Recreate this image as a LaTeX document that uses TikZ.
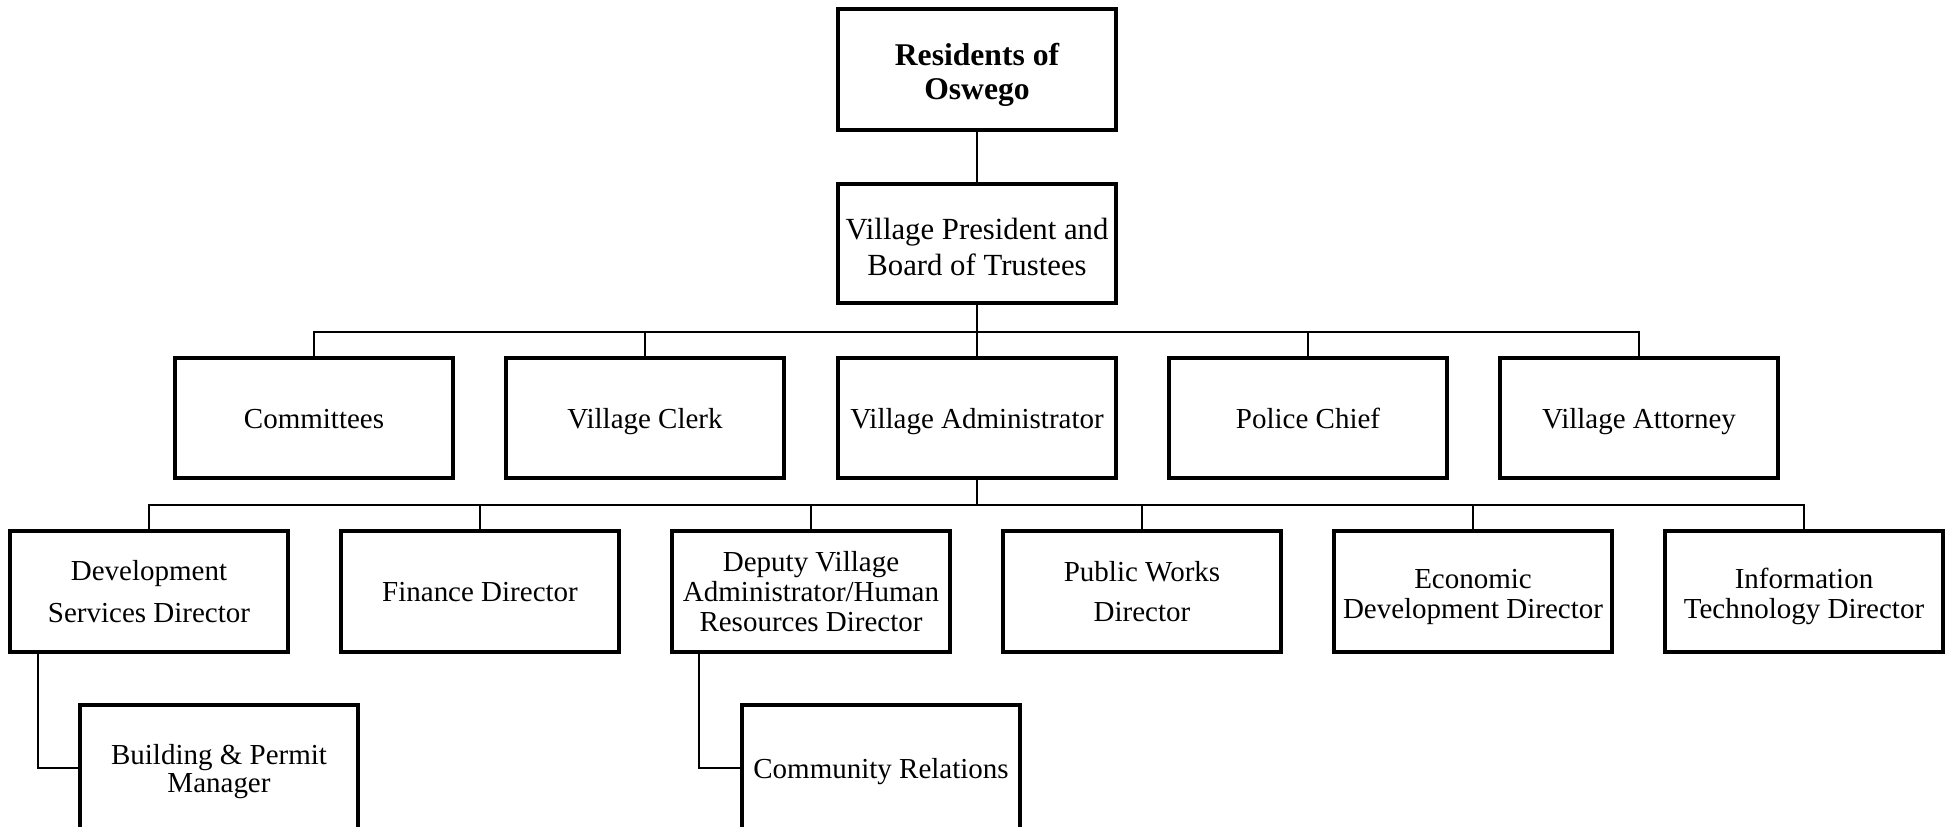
\documentclass[tikz,border=0pt]{standalone}
\usepackage{fontspec}
\setmainfont{Liberation Serif}
\newcommand\tstrut[1]{\rule{0pt}{#1}}
\begin{document}
\begin{tikzpicture}[x=0.02cm,y=-0.02cm,
  box/.style={draw=black, line width=1.9pt, rectangle, inner sep=0pt, align=center,
    minimum width=278*0.02cm, minimum height=120*0.02cm},
  f/.style={font=\fontsize{16.5}{#1}\selectfont},
  oneline/.style={text height=11.4pt, text depth=0pt},
  conn/.style={draw=black, line width=1.1pt}]
\useasboundingbox[fill=white] (0,0) rectangle (1949,826);
% top
\node[box, font=\fontsize{18}{19.3}\selectfont\bfseries, minimum height=121*0.02cm] (res) at (977,69.5) {\tstrut{18.8pt}Residents of\\Oswego};
\node[box, font=\fontsize{17.5}{20.5}\selectfont, minimum height=119*0.02cm] (vp) at (977,243.5) {\tstrut{16.3pt}Village President and\\Board of Trustees};
% row 2
\node[box, f=19, oneline] (com) at (314,418) {Committees};
\node[box, f=19, oneline] (clk) at (645,418) {Village Clerk};
\node[box, f=19, oneline] (adm) at (977,418) {Village Administrator};
\node[box, f=19, oneline] (pol) at (1308,418) {Police Chief};
\node[box, f=19, oneline] (att) at (1639,418) {Village Attorney};
% row 3
\node[box, f=23.9, minimum height=121*0.02cm] (dev) at (149,591.5) {Development\\Services Director};
\node[box, f=19, oneline, minimum height=121*0.02cm] (fin) at (480,591.5) {Finance Director};
\node[box, f=17, minimum height=121*0.02cm] (dep) at (811,591.5) {Deputy Village\\Administrator/Human\\Resources Director};
\node[box, f=22.8, minimum height=121*0.02cm] (pw) at (1142,591.5) {Public Works\\Director};
\node[box, f=17, minimum height=121*0.02cm] (eco) at (1473,591.5) {\tstrut{17pt}Economic\\Development Director};
\node[box, f=17, minimum height=121*0.02cm] (it) at (1804,591.5) {\tstrut{17pt}Information\\Technology Director};
% row 4
\node[box, f=16, minimum height=126*0.02cm] (bld) at (219,768) {\tstrut{15pt}Building \& Permit\\Manager};
\node[box, f=19, oneline, minimum height=126*0.02cm] (cr) at (881,768) {Community Relations};
% bus coordinates
\coordinate (busA) at (0,332);
\coordinate (busB) at (0,505);
\coordinate (devx) at (38,0);
\coordinate (depx) at (699,0);
% connectors
\draw[conn] (res.south) -- (vp.north);
\draw[conn] (vp.south) -- (vp.south |- busA);
\draw[conn] (com.north) -- (com.north |- busA) -- (att.north |- busA) -- (att.north);
\foreach \n in {clk,adm,pol} \draw[conn] (\n.north) -- (\n.north |- busA);
\draw[conn] (adm.south) -- (adm.south |- busB);
\draw[conn] (dev.north) -- (dev.north |- busB) -- (it.north |- busB) -- (it.north);
\foreach \n in {fin,dep,pw,eco} \draw[conn] (\n.north) -- (\n.north |- busB);
\draw[conn] (dev.south -| devx) |- (bld.west);
\draw[conn] (dep.south -| depx) |- (cr.west);
\end{tikzpicture}
\end{document}
